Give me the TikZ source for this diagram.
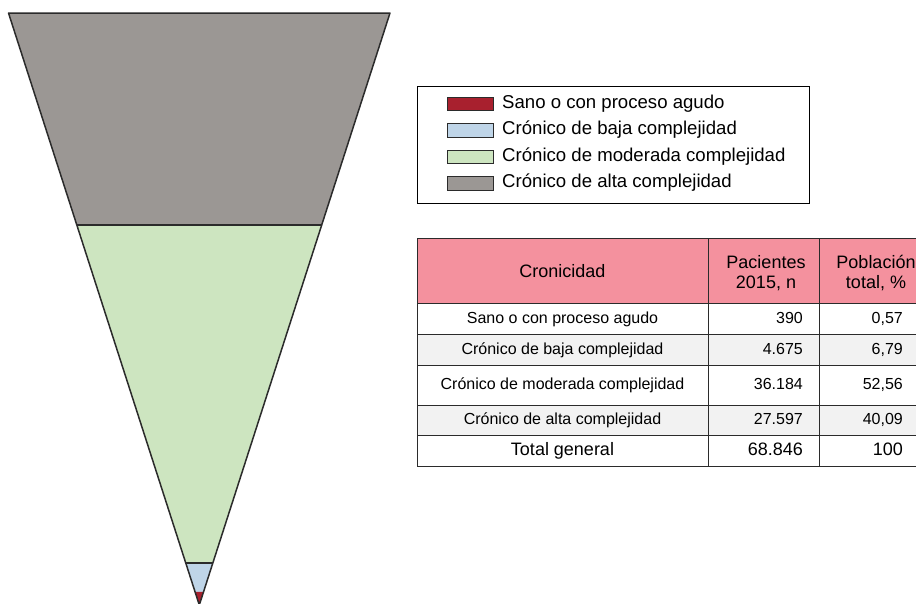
\documentclass[tikz,border=0pt]{standalone}
\usepackage{fontspec}
\setmainfont{Liberation Sans}
\usetikzlibrary{calc}
\definecolor{cgray}{HTML}{9B9794}
\definecolor{cgreen}{HTML}{CDE5C0}
\definecolor{cblue}{HTML}{BFD5E8}
\definecolor{cred}{HTML}{A8202E}
\definecolor{cpink}{HTML}{F4919E}
\definecolor{crow}{HTML}{F2F2F2}
\definecolor{cline}{HTML}{2B2B2B}
\tikzset{
  funnelline/.style={draw=cline, line width=1.5pt, line join=round},
  swatch/.style={draw=cline, line width=1pt},
  legtext/.style={anchor=mid west, inner sep=0pt, yshift=-1.5pt, font=\fontsize{18.6}{20}\selectfont},
  cell/.style={inner sep=0pt, yshift=-2pt, font=\fontsize{16}{18}\selectfont, anchor=mid},
  cellR/.style={inner sep=0pt, yshift=-2pt, font=\fontsize{16}{18}\selectfont, anchor=mid east},
  bigcell/.style={inner sep=0pt, yshift=-2pt, font=\fontsize{18}{20}\selectfont, anchor=mid},
  bigcellR/.style={inner sep=0pt, yshift=-2pt, font=\fontsize{18}{20}\selectfont, anchor=mid east},
  headcell/.style={inner sep=0pt, font=\fontsize{18}{20}\selectfont, align=center},
  tabline/.style={draw=cline, line width=1pt}
}
\begin{document}
\begin{tikzpicture}[x=1pt,y=-1pt]
\clip (0,0) rectangle (916,603);
\fill[white] (0,0) rectangle (916,603);
% ---------- funnel ----------
\coordinate (TL) at (8.5,13);
\coordinate (TR) at (390,13);
\coordinate (AP) at (199.3,605);
\coordinate (L1) at ($(TL)!0.3581!(AP)$);
\coordinate (R1) at ($(TR)!0.3581!(AP)$);
\coordinate (L2) at ($(TL)!0.9291!(AP)$);
\coordinate (R2) at ($(TR)!0.9291!(AP)$);
\coordinate (L3) at ($(TL)!0.9780!(AP)$);
\coordinate (R3) at ($(TR)!0.9780!(AP)$);
\fill[cgray] (TL) -- (TR) -- (R1) -- (L1) -- cycle;
\fill[cgreen] (L1) -- (R1) -- (R2) -- (L2) -- cycle;
\fill[cblue] (L2) -- (R2) -- (R3) -- (L3) -- cycle;
\fill[cred] (L3) -- (R3) -- (AP) -- cycle;
\draw[funnelline] (TL) -- (TR) -- (AP) -- cycle;
\draw[funnelline] (L1) -- (R1);
\draw[funnelline] (L2) -- (R2);
% ---------- legend ----------
\draw[line width=1pt, draw=black] (417,86) rectangle (809,203);
\draw[swatch, fill=cred]   (447,97) rectangle (493,110.5);
\draw[swatch, fill=cblue]  (447,123.5)  rectangle (493,137);
\draw[swatch, fill=cgreen] (447,150) rectangle (493,163.5);
\draw[swatch, fill=cgray]  (447,176.5)  rectangle (493,190);
\node[legtext] (lg1) at (502,104) {Sano o con proceso agudo};
\node[legtext] (lg2) at (502,130.5) {Crónico de baja complejidad};
\node[legtext] (lg3) at (502,157) {Crónico de moderada complejidad};
\node[legtext] (lg4) at (502,183.5) {Crónico de alta complejidad};
% ---------- table ----------
\fill[cpink] (417,238) rectangle (934,303);
\fill[crow] (417,334) rectangle (934,365);
\fill[crow] (417,405) rectangle (934,435);
\foreach \yy in {238,303,334,365,405,435,466} {
  \draw[tabline] (417,\yy) -- (934,\yy);
}
\foreach \xx in {417,708,819,934} {
  \draw[tabline] (\xx,238) -- (\xx,466);
}
\node[headcell] (h1) at (562.5,271.5) {Cronicidad};
\node[headcell] (h2) at (766,273.5) {Pacientes\\2015, n};
\node[headcell] (h3) at (876,273.5) {Población\\total, \%};
\node[cell] (a1) at (562.5,318.5) {Sano o con proceso agudo};
\node[cell] (a2) at (562.5,349.5) {Crónico de baja complejidad};
\node[cell] (a3) at (562.5,385) {Crónico de moderada complejidad};
\node[cell] (a4) at (562.5,420) {Crónico de alta complejidad};
\node[bigcell] (a5) at (562.5,450.5) {Total general};
\node[cellR] (b1) at (803,318.5) {390};
\node[cellR] (b2) at (803,349.5) {4.675};
\node[cellR] (b3) at (803,385) {36.184};
\node[cellR] (b4) at (803,420) {27.597};
\node[bigcellR] (b5) at (803,450.5) {68.846};
\node[cellR] (c1) at (903,318.5) {0,57};
\node[cellR] (c2) at (903,349.5) {6,79};
\node[cellR] (c3) at (903,385) {52,56};
\node[cellR] (c4) at (903,420) {40,09};
\node[bigcellR] (c5) at (903,450.5) {100};
\end{tikzpicture}
\end{document}
